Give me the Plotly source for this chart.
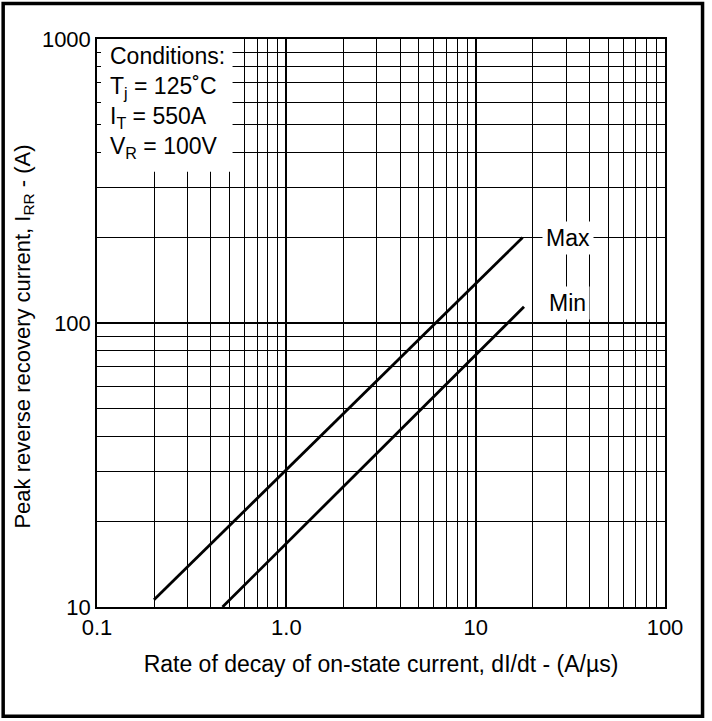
import plotly.graph_objects as go

# Data (log-log straight lines)
max_x = [0.2, 17.7]
max_y = [10.6, 200.0]
min_x = [0.46, 18.0]
min_y = [10.0, 114.0]

x_major = [0.1, 1, 10, 100]
x_major_text = ["0.1", "1.0", "10", "100"]
y_major = [10, 100, 1000]
y_major_text = ["10", "100", "1000"]

x_minor = [m * d for d in (0.1, 1, 10) for m in range(2, 10)]
y_minor = [m * d for d in (10, 100) for m in range(2, 10)]

FONT = "Liberation Sans, Arial, sans-serif"

fig = go.Figure()
fig.add_trace(go.Scatter(x=max_x, y=max_y, mode="lines",
                         line=dict(color="black", width=2.8), showlegend=False))
fig.add_trace(go.Scatter(x=min_x, y=min_y, mode="lines",
                         line=dict(color="black", width=2.8), showlegend=False))

axis_common = dict(
    type="log", showline=True, linecolor="black", linewidth=1.5, mirror=True,
    showgrid=True, gridcolor="black", gridwidth=1.6,
    ticks="inside", ticklen=0, tickcolor="black",
    tickfont=dict(family=FONT, size=22, color="black"),
    zeroline=False,
)

fig.update_xaxes(
    **axis_common,
    range=[-1, 2],
    tickmode="array", tickvals=x_major, ticktext=x_major_text,
    minor=dict(tickmode="array", tickvals=x_minor, ticks="inside", ticklen=4,
               tickcolor="black", showgrid=True, gridcolor="black", gridwidth=1),
    title=dict(text="Rate of decay of on-state current, dI/dt - (A/µs)",
               font=dict(family=FONT, size=23, color="black"), standoff=17),
)
fig.update_yaxes(
    **axis_common,
    range=[1, 3],
    tickmode="array", tickvals=y_major, ticktext=y_major_text,
    minor=dict(tickmode="array", tickvals=y_minor, ticks="inside", ticklen=4,
               tickcolor="black", showgrid=True, gridcolor="black", gridwidth=1),
)

# y-axis title placed as a rotated annotation
fig.add_annotation(
    xref="paper", yref="paper", x=-0.129, y=0.4756, xanchor="center", yanchor="middle",
    textangle=-90, showarrow=False,
    text="Peak reverse recovery current, I<sub>RR</sub> - (A)",
    font=dict(family=FONT, size=22, color="black"),
)

# white box behind the conditions text (covers the grid, not the axes)
fig.add_shape(type="rect", xref="x", yref="y", x0=0.1, x1=0.52, y0=341, y1=1000,
              fillcolor="white", line=dict(width=0), layer="between")

fig.add_annotation(
    xref="paper", yref="paper", x=0.02, y=0.997, xanchor="left", yanchor="top",
    align="left", showarrow=False,
    text="Conditions:<br>T<sub>j</sub> = 125˚C<br>I<sub>T</sub> = 550A<br>V<sub>R</sub> = 100V",
    font=dict(family=FONT, size=23, color="black"),
)

fig.add_annotation(x=1.487, y=2.301, xref="x", yref="y", text="Max", showarrow=False,
                   bgcolor="white", font=dict(family=FONT, size=23, color="black"),
                   borderpad=3)
fig.add_annotation(x=1.487, y=2.07, xref="x", yref="y", text="Min", showarrow=False,
                   bgcolor="white", font=dict(family=FONT, size=23, color="black"),
                   borderpad=3)

# outer frame around the whole picture
fig.add_shape(type="rect", xref="paper", yref="paper",
              x0=-0.1652, x1=1.0661, y0=-0.1922, y1=1.0625,
              line=dict(color="black", width=3.5), fillcolor="rgba(0,0,0,0)")

fig.update_layout(
    width=712, height=721,
    margin=dict(l=97, r=47, t=39, b=114),
    paper_bgcolor="white", plot_bgcolor="white",
    font=dict(family=FONT, size=22, color="black"),
)

fig.write_html("out.html", config={"displayModeBar": False},
               post_script="document.body.style.margin='0px';document.body.style.overflow='hidden';")
